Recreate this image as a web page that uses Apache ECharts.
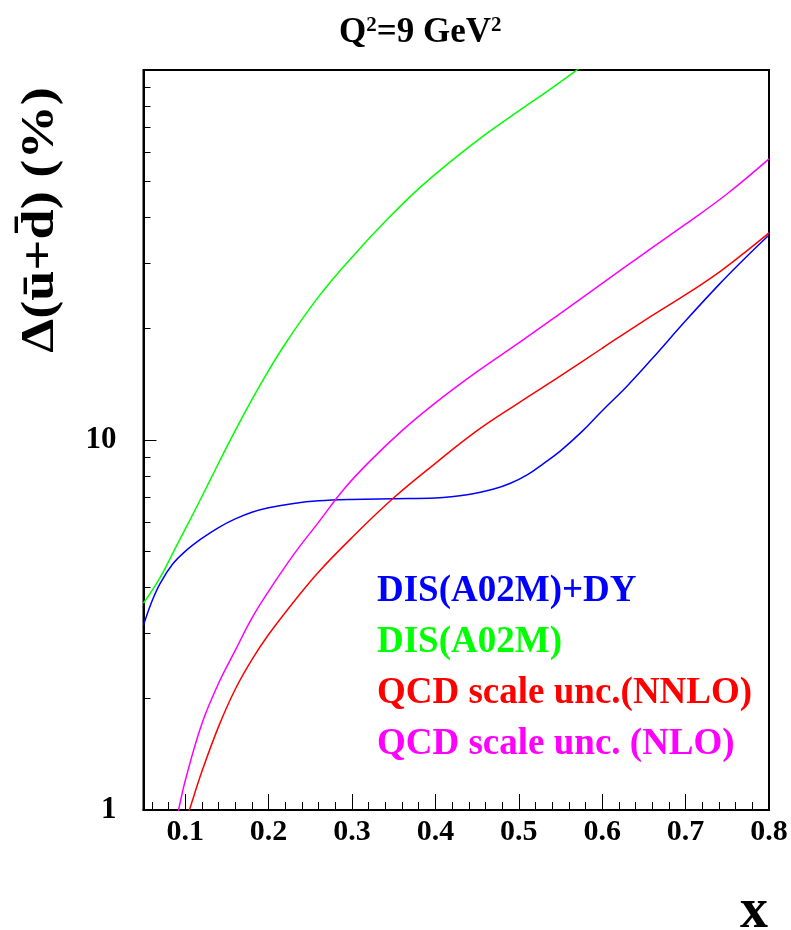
<!DOCTYPE html>
<html><head><meta charset="utf-8">
<script src="https://cdn.jsdelivr.net/npm/echarts@6/dist/echarts.min.js"></script>
<style>html,body{margin:0;padding:0;background:#fff}#c{width:791px;height:930px}</style>
</head><body><div id="c"></div>
<script>
// ---- data ----
const seriesNames = ['DIS(A02M)+DY', 'DIS(A02M)', 'QCD scale unc.(NNLO)', 'QCD scale unc. (NLO)'];
const seriesColors = ['#0000ff', '#00ff00', '#ff0000', '#ff00ff'];

const disDY = [[0.05,3.16],[0.06,3.66],[0.07,4.1],[0.085,4.62],[0.10,5.0],[0.12,5.42],[0.14,5.8],[0.16,6.12],
  [0.18,6.38],[0.20,6.56],[0.23,6.74],[0.26,6.85],[0.30,6.91],[0.35,6.94],[0.40,6.97],[0.44,7.12],[0.47,7.37],
  [0.49,7.64],[0.51,8.05],[0.53,8.65],[0.55,9.35],[0.575,10.5],[0.60,12.0],[0.63,14.0],[0.66,16.6],[0.70,21.0],
  [0.74,26.3],[0.77,30.8],[0.80,35.8]];
const dis = [[0.05,3.62],[0.07,4.25],[0.09,5.2],[0.11,6.35],[0.13,7.8],[0.15,9.6],[0.17,11.7],[0.19,14.1],
  [0.22,18.2],[0.26,24.4],[0.30,31.2],[0.34,39.0],[0.38,47.8],[0.42,57.0],[0.46,67.0],[0.50,77.5],[0.54,89.5],
  [0.58,104]];
const nnlo = [[0.10,0.925],[0.105,1.0],[0.12,1.27],[0.14,1.68],[0.16,2.12],[0.18,2.55],[0.20,2.98],[0.23,3.65],
  [0.26,4.40],[0.30,5.45],[0.35,6.98],[0.40,8.65],[0.45,10.6],[0.50,12.6],[0.55,14.9],[0.60,17.7],[0.65,21.0],
  [0.70,24.7],[0.74,28.4],[0.77,32.0],[0.80,36.3]];
const nlo = [[0.088,0.92],[0.092,1.0],[0.10,1.2],[0.12,1.71],[0.14,2.2],[0.16,2.7],[0.18,3.3],[0.20,3.9],
  [0.23,4.9],[0.26,6.0],[0.29,7.35],[0.32,8.7],[0.36,10.6],[0.40,12.6],[0.45,15.3],[0.50,18.3],[0.55,22.0],
  [0.60,26.5],[0.65,31.9],[0.70,38.3],[0.75,46.3],[0.80,57.5]];
const seriesData = [disDY, dis, nnlo, nlo];

const xMajorTicks = [0.1, 0.2, 0.3, 0.4, 0.5, 0.6, 0.7, 0.8];
const xMinorTicks = [0.06, 0.08, 0.12, 0.14, 0.16, 0.18, 0.22, 0.24, 0.26, 0.28, 0.32, 0.34, 0.36, 0.38,
  0.42, 0.44, 0.46, 0.48, 0.52, 0.54, 0.56, 0.58, 0.62, 0.64, 0.66, 0.68, 0.72, 0.74, 0.76, 0.78];
const yMajorTicks = [1, 10, 100];
const yTickLabels = [1, 10];
const yMinorTicks = [2, 3, 4, 5, 6, 7, 8, 9, 20, 30, 40, 50, 60, 70, 80, 90];

const titleText = '{b|Q}{s|2}{b|=9 GeV}{s|2}';
const yTitle = 'Δ(ū+d̄) (%)';
const xTitle = 'x';

// ---- chart ----
const FONT = '"Liberation Serif", "Times New Roman", serif';
const chart = echarts.init(document.getElementById('c'), null, {renderer: 'canvas'});
const X0 = 0.05, X1 = 0.8, Y0 = 1, Y1 = 100;

const option = {
  animation: false,
  backgroundColor: '#fff',
  title: {
    text: titleText, left: 334, top: 10,
    textStyle: {
      rich: {
        b: {fontFamily: FONT, fontWeight: 'bold', fontSize: 35, color: '#000'},
        s: {fontFamily: FONT, fontWeight: 'bold', fontSize: 21, color: '#000', verticalAlign: 'top'}
      }
    }
  },
  legend: {
    orient: 'vertical', left: 367, top: 568, itemGap: 14,
    itemWidth: 0, itemHeight: 0, selectedMode: false, icon: 'rect',
    data: seriesNames.map((n, i) => ({name: n, itemStyle: {opacity: 0},
      textStyle: {color: seriesColors[i], fontFamily: FONT, fontWeight: 'bold', fontSize: 37}}))
  },
  grid: {left: 143.5, right: 22, top: 70, bottom: 120, show: true, borderColor: '#000', borderWidth: 2, backgroundColor: 'transparent'},
  xAxis: [{
    type: 'value', min: X0, max: X1, position: 'bottom',
    axisLine: {show: true, lineStyle: {color: '#000', width: 2}},
    axisTick: {show: true, inside: true, length: 16, customValues: xMajorTicks, lineStyle: {color: '#000', width: 1}},
    axisLabel: {show: true, customValues: xMajorTicks, margin: 7, formatter: v => v.toFixed(1),
      fontFamily: FONT, fontWeight: 'bold', fontSize: 30, color: '#000'},
    splitLine: {show: false}
  }, {
    type: 'value', min: X0, max: X1, position: 'bottom',
    axisLine: {show: false},
    axisTick: {show: true, inside: true, length: 8, customValues: xMinorTicks, lineStyle: {color: '#000', width: 1}},
    axisLabel: {show: false}, splitLine: {show: false}
  }],
  yAxis: [{
    type: 'log', logBase: 10, min: Y0, max: Y1, position: 'left',
    axisLine: {show: true, lineStyle: {color: '#000', width: 2}},
    axisTick: {show: true, inside: true, length: 13, customValues: yMajorTicks, lineStyle: {color: '#000', width: 1}},
    axisLabel: {show: true, customValues: yTickLabels, margin: 27, formatter: v => String(v),
      fontFamily: FONT, fontWeight: 'bold', fontSize: 31, color: '#000'},
    splitLine: {show: false}
  }, {
    type: 'log', logBase: 10, min: Y0, max: Y1, position: 'left',
    axisLine: {show: false},
    axisTick: {show: true, inside: true, length: 7, customValues: yMinorTicks, lineStyle: {color: '#000', width: 1}},
    axisLabel: {show: false}, splitLine: {show: false}
  }],
  graphic: [
    {type: 'text', x: 41, y: 220, rotation: Math.PI / 2, scaleX: 1.18,
      style: {text: yTitle, fill: '#000', font: 'bold 46px ' + FONT, align: 'center', verticalAlign: 'middle'}},
    {type: 'text', x: 768, y: 913, style: {text: xTitle, fill: '#000', font: 'bold 56px ' + FONT, align: 'right', verticalAlign: 'middle'}}
  ],
  series: seriesData.map((d, i) => ({
    name: seriesNames[i], type: 'line', xAxisIndex: 0, yAxisIndex: 0,
    data: d, showSymbol: false, smooth: 0.4, clip: true,
    lineStyle: {color: seriesColors[i], width: 1.5}, itemStyle: {color: seriesColors[i]}
  }))
};
chart.setOption(option);
chart.setOption(option);
</script></body></html>
